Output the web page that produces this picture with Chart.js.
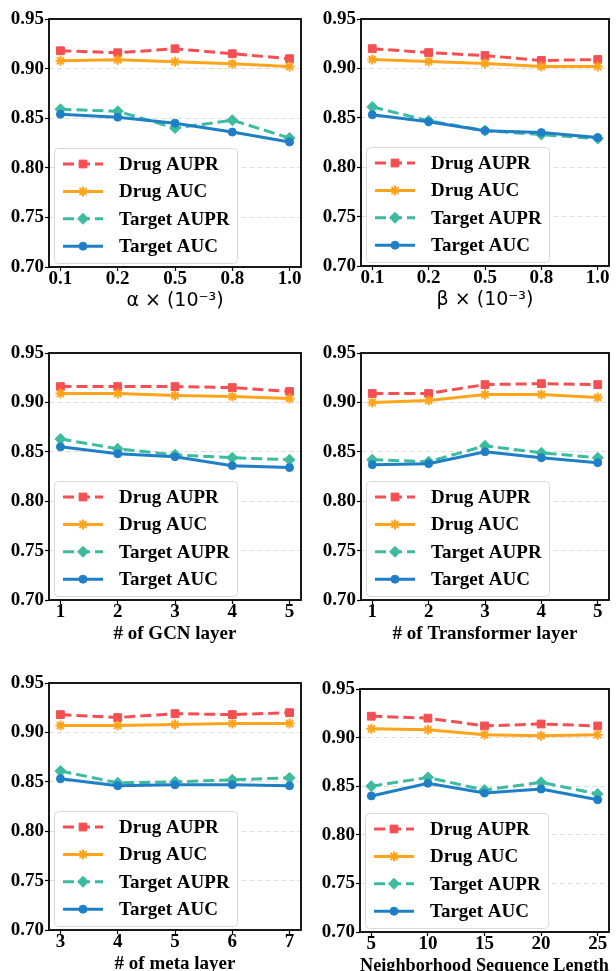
<!DOCTYPE html>
<html>
<head>
<meta charset="utf-8">
<script src="https://cdn.jsdelivr.net/npm/chart.js@4.4.0/dist/chart.umd.min.js"></script>
<style>
  html, body { margin: 0; padding: 0; background: #fff; overflow: hidden; }
  body { width: 616px; height: 971px; position: relative; }
  canvas { position: absolute; }
</style>
</head>
<body>
<canvas id="cAlpha"></canvas>
<canvas id="cBeta"></canvas>
<canvas id="cGcn"></canvas>
<canvas id="cTrans"></canvas>
<canvas id="cMeta"></canvas>
<canvas id="cNeigh"></canvas>
<script>
// ---- data ----
const seriesNames = ['Drug AUPR', 'Drug AUC', 'Target AUPR', 'Target AUC'];
const yTicks = [0.70, 0.75, 0.80, 0.85, 0.90, 0.95];

const alphaLabels = ['0.1', '0.2', '0.5', '0.8', '1.0'];
const alphaDrugAupr = [0.918, 0.916, 0.920, 0.915, 0.910];
const alphaDrugAuc = [0.908, 0.909, 0.907, 0.905, 0.902];
const alphaTargetAupr = [0.859, 0.857, 0.840, 0.848, 0.830];
const alphaTargetAuc = [0.854, 0.851, 0.845, 0.836, 0.826];

const betaLabels = ['0.1', '0.2', '0.5', '0.8', '1.0'];
const betaDrugAupr = [0.920, 0.916, 0.913, 0.908, 0.909];
const betaDrugAuc = [0.909, 0.907, 0.905, 0.902, 0.902];
const betaTargetAupr = [0.861, 0.847, 0.837, 0.833, 0.829];
const betaTargetAuc = [0.853, 0.846, 0.837, 0.835, 0.830];

const gcnLabels = ['1', '2', '3', '4', '5'];
const gcnDrugAupr = [0.916, 0.916, 0.916, 0.915, 0.911];
const gcnDrugAuc = [0.909, 0.909, 0.907, 0.906, 0.904];
const gcnTargetAupr = [0.863, 0.853, 0.847, 0.844, 0.842];
const gcnTargetAuc = [0.855, 0.848, 0.845, 0.836, 0.834];

const transLabels = ['1', '2', '3', '4', '5'];
const transDrugAupr = [0.909, 0.909, 0.918, 0.919, 0.918];
const transDrugAuc = [0.900, 0.902, 0.908, 0.908, 0.905];
const transTargetAupr = [0.842, 0.840, 0.856, 0.849, 0.844];
const transTargetAuc = [0.837, 0.838, 0.850, 0.844, 0.839];

const metaLabels = ['3', '4', '5', '6', '7'];
const metaDrugAupr = [0.918, 0.915, 0.919, 0.918, 0.920];
const metaDrugAuc = [0.907, 0.907, 0.908, 0.909, 0.909];
const metaTargetAupr = [0.861, 0.849, 0.850, 0.852, 0.854];
const metaTargetAuc = [0.853, 0.846, 0.847, 0.847, 0.846];

const neighLabels = ['5', '10', '15', '20', '25'];
const neighDrugAupr = [0.922, 0.920, 0.912, 0.914, 0.912];
const neighDrugAuc = [0.909, 0.908, 0.903, 0.902, 0.903];
const neighTargetAupr = [0.850, 0.859, 0.846, 0.854, 0.842];
const neighTargetAuc = [0.840, 0.853, 0.843, 0.847, 0.836];

// ---- styles ----
const serif = '"Liberation Serif", "Times New Roman", serif';
const seriesStyle = [
  { color: '#f44f52', dash: [11, 5], point: 'rect', radius: 5.5, pbw: 1 },
  { color: '#ffa41b', dash: [], point: 'star', radius: 5, pbw: 2 },
  { color: '#3dbb9f', dash: [11, 5], point: 'rectRot', radius: 5.5, pbw: 1 },
  { color: '#1f7fc6', dash: [], point: 'circle', radius: 4, pbw: 1 },
];

// frame around the plot area (matplotlib spines)
const frame = {
  id: 'frame',
  afterDraw(chart) {
    const { ctx, chartArea: a } = chart;
    ctx.save();
    ctx.strokeStyle = '#000';
    ctx.lineWidth = 1.8;
    ctx.strokeRect(a.left, a.top, a.right - a.left, a.bottom - a.top);
    ctx.restore();
  }
};

// legend box in the lower-left corner of the plot area
const insideLegend = {
  id: 'insideLegend',
  afterDraw(chart) {
    const { ctx, chartArea: a } = chart;
    const w = 183, h = 115;
    const x = a.left + 5, y = a.bottom - 4 - h;
    ctx.save();
    ctx.beginPath();
    ctx.roundRect(x + 0.5, y + 0.5, w, h, 4);
    ctx.fillStyle = 'rgba(255,255,255,0.8)';
    ctx.fill();
    ctx.strokeStyle = '#d9d9d9';
    ctx.lineWidth = 1;
    ctx.stroke();
    chart.data.datasets.forEach((ds, i) => {
      const cy = y + 16 + i * 27.4;
      ctx.strokeStyle = ds.borderColor;
      ctx.lineWidth = ds.borderWidth;
      ctx.setLineDash(ds.borderDash);
      ctx.beginPath();
      ctx.moveTo(x + 9, cy);
      ctx.lineTo(x + 49, cy);
      ctx.stroke();
      ctx.setLineDash([]);
      ctx.fillStyle = ds.pointBackgroundColor;
      ctx.strokeStyle = ds.pointBorderColor;
      ctx.lineWidth = ds.pointBorderWidth;
      Chart.helpers.drawPoint(ctx, {
        pointStyle: ds.pointStyle, radius: ds.pointRadius,
        borderWidth: ds.pointBorderWidth, rotation: 0
      }, x + 29, cy);
      ctx.fillStyle = '#000';
      ctx.font = 'bold 19px ' + serif;
      ctx.textBaseline = 'middle';
      ctx.textAlign = 'left';
      ctx.fillText(ds.label, x + 65, cy + 1);
    });
    ctx.restore();
  }
};

function makeDatasets(series) {
  return series.map((vals, i) => {
    const s = seriesStyle[i];
    return {
      label: seriesNames[i],
      data: vals.map((v, k) => ({ x: k, y: v })),
      borderColor: s.color,
      backgroundColor: s.color,
      borderWidth: 3,
      borderDash: s.dash,
      pointStyle: s.point,
      pointRadius: s.radius,
      pointBorderWidth: s.pbw,
      pointBackgroundColor: s.color,
      pointBorderColor: s.color,
      tension: 0,
      fill: false,
      order: 4 - i,
    };
  });
}

function renderPanel(p) {
  const el = document.getElementById(p.id);
  const height = 19 + (p.plotBottom - p.plotTop) + 53;
  el.width = p.w;
  el.height = height;
  el.style.left = p.x + 'px';
  el.style.top = (p.plotTop - 19) + 'px';
  el.style.width = p.w + 'px';
  el.style.height = height + 'px';
  const n = p.labels.length;

  new Chart(el, {
    type: 'line',
    data: { datasets: makeDatasets(p.series) },
    options: {
      responsive: false,
      animation: false,
      devicePixelRatio: 1,
      layout: { padding: { left: 0, top: 19, right: p.x + p.w - p.plotRight, bottom: 0 } },
      scales: {
        x: {
          type: 'linear',
          min: -0.2,
          max: n - 1 + 0.2,
          afterBuildTicks: s => { s.ticks = p.labels.map((_, k) => ({ value: k })); },
          afterFit: s => { s.height = 53; },
          ticks: {
            color: '#000',
            padding: -3,
            font: { family: serif, weight: 'bold', size: 19 },
            callback: v => p.labels[v],
            maxRotation: 0,
            autoSkip: false,
          },
          grid: { drawOnChartArea: false, tickLength: 4, tickColor: '#000', tickWidth: 1.2 },
          border: { display: false },
          title: {
            display: true,
            text: p.title,
            color: '#000',
            padding: { top: 0, bottom: 8 },
            font: p.math
              ? { family: '"DejaVu Sans", sans-serif', weight: 'normal', size: 19 }
              : { family: serif, weight: 'bold', size: 19 },
          },
        },
        y: {
          min: 0.70,
          max: 0.95,
          afterBuildTicks: s => { s.ticks = yTicks.map(v => ({ value: v })); },
          afterFit: s => { s.width = 49; },
          ticks: {
            color: '#000',
            padding: 1,
            font: { family: serif, weight: 'bold', size: 19 },
            callback: v => v.toFixed(2),
          },
          grid: { color: '#dedede', lineWidth: 1, tickLength: 4, tickColor: '#000', tickWidth: 1.2, tickBorderDash: [] },
          border: { display: false, dash: [5, 3] },
        },
      },
      plugins: { legend: { display: false }, tooltip: { enabled: false } },
    },
    plugins: [frame, insideLegend],
  });
}

const panels = [
  { id: 'cAlpha', labels: alphaLabels, title: 'α × (10⁻³)', math: true,
    series: [alphaDrugAupr, alphaDrugAuc, alphaTargetAupr, alphaTargetAuc],
    x: 0, w: 308, plotTop: 19, plotBottom: 267, plotRight: 303 },
  { id: 'cBeta', labels: betaLabels, title: 'β × (10⁻³)', math: true,
    series: [betaDrugAupr, betaDrugAuc, betaTargetAupr, betaTargetAuc],
    x: 312, w: 304, plotTop: 19, plotBottom: 266, plotRight: 614 },
  { id: 'cGcn', labels: gcnLabels, title: '# of GCN layer', math: false,
    series: [gcnDrugAupr, gcnDrugAuc, gcnTargetAupr, gcnTargetAuc],
    x: 0, w: 308, plotTop: 353, plotBottom: 600, plotRight: 303 },
  { id: 'cTrans', labels: transLabels, title: '# of Transformer layer', math: false,
    series: [transDrugAupr, transDrugAuc, transTargetAupr, transTargetAuc],
    x: 312, w: 304, plotTop: 353, plotBottom: 600, plotRight: 614 },
  { id: 'cMeta', labels: metaLabels, title: '# of meta layer', math: false,
    series: [metaDrugAupr, metaDrugAuc, metaTargetAupr, metaTargetAuc],
    x: 0, w: 308, plotTop: 683, plotBottom: 930, plotRight: 303 },
  { id: 'cNeigh', labels: neighLabels, title: 'Neighborhood Sequence Length', math: false,
    series: [neighDrugAupr, neighDrugAuc, neighTargetAupr, neighTargetAuc],
    x: 311, w: 305, plotTop: 689, plotBottom: 932, plotRight: 612 },
];

panels.forEach(renderPanel);
</script>
</body>
</html>
